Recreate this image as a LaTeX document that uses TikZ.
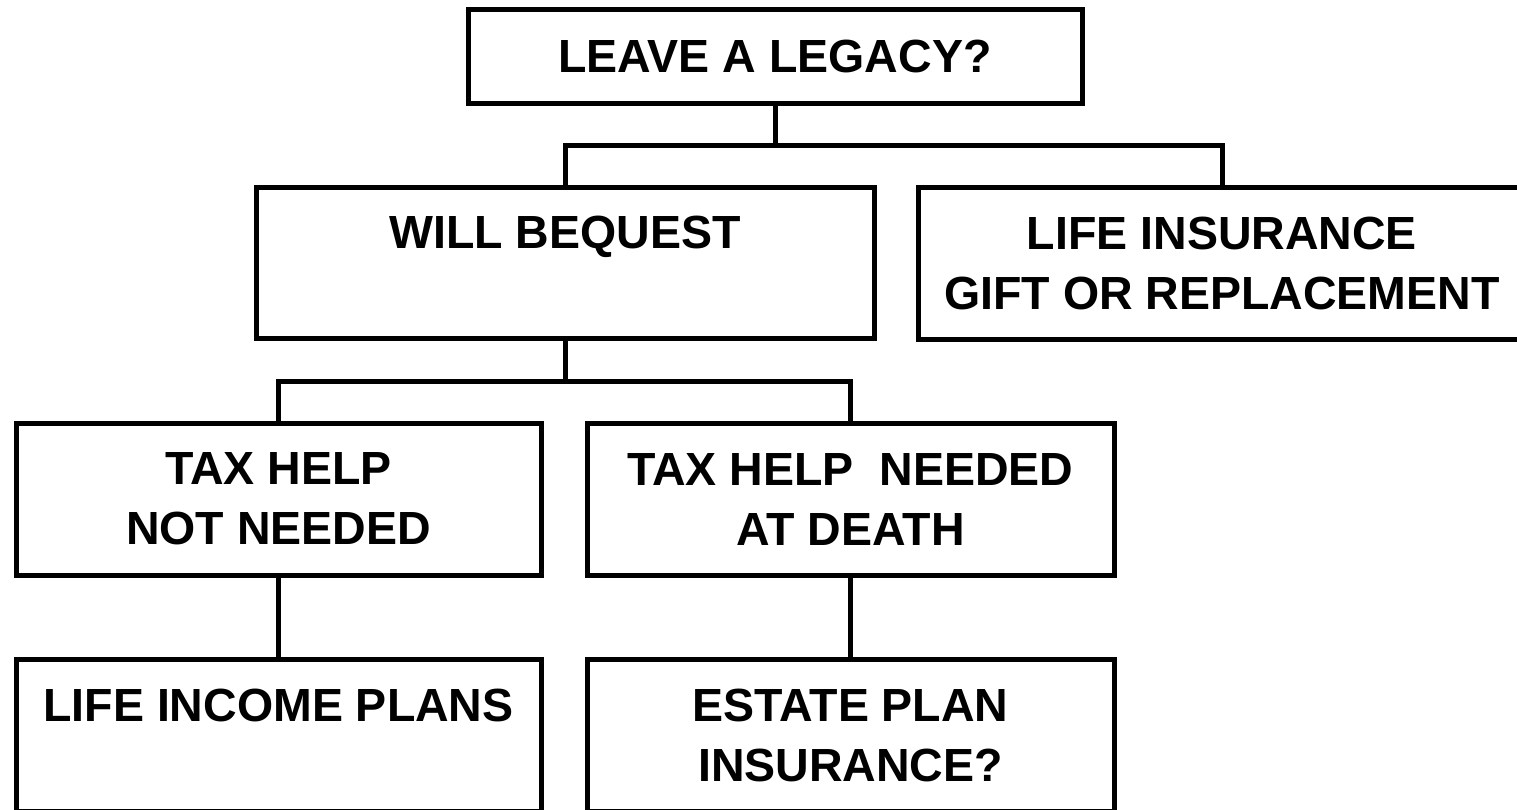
\documentclass[tikz,border=0pt]{standalone}
\usepackage{fontspec}
\setmainfont{Liberation Sans}
\begin{document}
\begin{tikzpicture}[x=1pt,y=-1pt,
  box/.style={draw=black, line width=5pt, rectangle, inner sep=0pt, outer sep=0pt,
    align=center, font=\fontsize{46.5}{60}\selectfont\bfseries},
  conn/.style={draw=black, line width=5pt}]
\useasboundingbox (0,0) rectangle (1517,809);
\clip (0,0) rectangle (1517,809);
\node[box, minimum width=614pt, minimum height=94pt] (top) at (775,56) {LEAVE A LEGACY?};
\node[box, minimum width=618pt, minimum height=151pt] (will) at (565,262.5) {WILL BEQUEST\\\phantom{I}};
\node[box, minimum width=608pt, minimum height=152pt] (life) at (1222,263) {LIFE INSURANCE\\GIFT OR REPLACEMENT};
\node[box, minimum width=525pt, minimum height=152pt] (taxno) at (278.5,499) {TAX HELP\\NOT NEEDED};
\node[box, minimum width=527pt, minimum height=152pt] (taxyes) at (850.5,499) {TAX HELP\ \ NEEDED\\AT DEATH};
\node[box, minimum width=525pt, minimum height=152pt] (income) at (278.5,735) {LIFE INCOME PLANS\\\phantom{I}};
\node[box, minimum width=527pt, minimum height=152pt] (estate) at (850.5,735) {ESTATE PLAN\\INSURANCE?};
\coordinate (j1) at (775,145);
\coordinate (j2) at (565,381);
\draw[conn] (top.south) -- (j1);
\draw[conn] (will.north) |- (j1) -| (life.north);
\draw[conn] (will.south) -- (j2);
\draw[conn] (taxno.north) |- (j2) -| (taxyes.north);
\draw[conn] (taxno.south) -- (income.north);
\draw[conn] (taxyes.south) -- (estate.north);
\end{tikzpicture}
\end{document}
